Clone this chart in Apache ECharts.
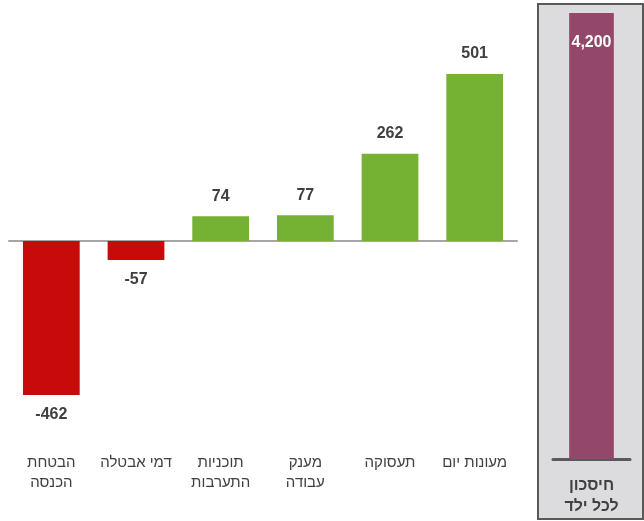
<!DOCTYPE html>
<html><head><meta charset="utf-8">
<script src="https://cdn.jsdelivr.net/npm/echarts@6/dist/echarts.min.js"></script>
<style>html,body{margin:0;padding:0;background:#fff}#c{width:644px;height:521px}</style>
</head><body><div id="c"></div>
<script>
const categories = ["הבטחת\nהכנסה", "דמי אבטלה", "תוכניות\nהתערבות", "מענק\nעבודה", "תעסוקה", "מעונות יום"];
const values = [-462, -57, 74, 77, 262, 501];
const savingsCategories = ["חיסכון\nלכל ילד"];
const savingsValues = [4200];

const FONT = "'Liberation Sans', Arial, sans-serif";
const RED = '#c90a0a', GREEN = '#75b133', PURPLE = '#944869';

const chart = echarts.init(document.getElementById('c'), null, {renderer: 'canvas'});
chart.setOption({
  animation: false,
  backgroundColor: '#ffffff',
  graphic: [{
    type: 'rect', z: -10, silent: true,
    shape: {x: 538, y: 4, width: 105, height: 515},
    style: {fill: '#dcdcdf', stroke: '#595959', lineWidth: 2}
  }],
  grid: [
    {left: 9, right: 127, top: 41, bottom: 80},
    {left: 553, right: 14, top: 13, bottom: 62}
  ],
  xAxis: [
    {type: 'category', gridIndex: 0, data: categories, position: 'bottom',
     axisLine: {show: false, onZero: false}, axisTick: {show: false},
     axisLabel: {margin: 12, fontSize: 15, lineHeight: 20, color: '#404040', fontFamily: FONT, interval: 0}},
    {type: 'category', gridIndex: 0, data: categories,
     axisLine: {show: true, onZero: true, lineStyle: {color: '#a6a6a6', width: 2}},
     axisTick: {show: false}, axisLabel: {show: false}},
    {type: 'category', gridIndex: 1, data: savingsCategories,
     axisLine: {show: true, lineStyle: {color: '#595959', width: 3}}, axisTick: {show: false},
     axisLabel: {margin: 16, fontSize: 16, fontWeight: 'bold', lineHeight: 21, color: '#404040', fontFamily: FONT}}
  ],
  yAxis: [
    {type: 'value', gridIndex: 0, min: -600, max: 600, show: false},
    {type: 'value', gridIndex: 1, min: 0, max: 4200, show: false}
  ],
  series: [
    {type: 'bar', xAxisIndex: 0, yAxisIndex: 0, barWidth: '67%',
     data: values.map(v => ({value: v,
       itemStyle: {color: v < 0 ? RED : GREEN},
       label: {position: v < 0 ? 'bottom' : 'top'}})),
     label: {show: true, distance: 12, fontSize: 16, fontWeight: 'bold', color: '#404040', fontFamily: FONT}},
    {type: 'bar', xAxisIndex: 2, yAxisIndex: 1, barWidth: '58%',
     data: savingsValues,
     itemStyle: {color: PURPLE},
     label: {show: true, position: 'insideTop', distance: 22, fontSize: 16, fontWeight: 'bold', color: '#ffffff', fontFamily: FONT,
       formatter: p => p.value.toLocaleString('en-US')}}
  ]
});
</script></body></html>
